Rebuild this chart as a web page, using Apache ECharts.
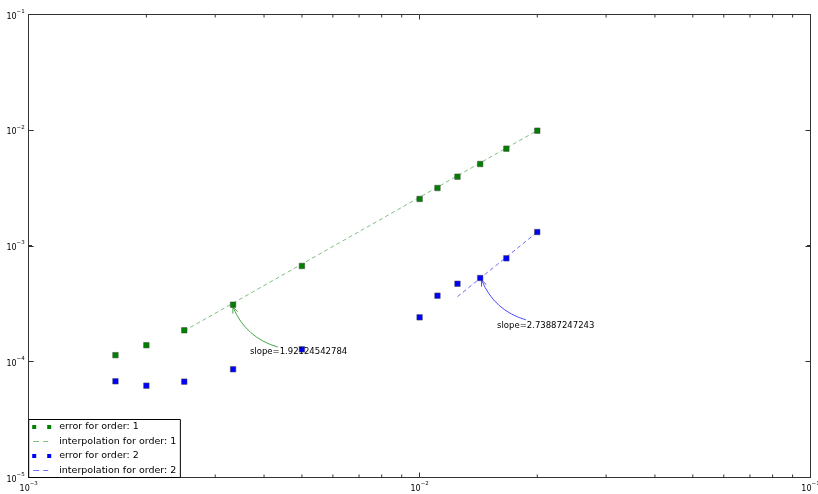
<!DOCTYPE html>
<html>
<head>
<meta charset="utf-8">
<script src="https://cdn.jsdelivr.net/npm/echarts@6/dist/echarts.min.js"></script>
<style>html,body{margin:0;padding:0;background:#fff}#c{width:818px;height:494px}</style>
</head>
<body>
<div id="c"></div>
<script>
// step sizes h (x) shared by both series
const hValues = [0.001667, 0.002, 0.0025, 0.003333, 0.005, 0.01, 0.01111, 0.0125, 0.01429, 0.01667, 0.02];
const errOrder1 = [1.14e-4, 1.39e-4, 1.87e-4, 3.11e-4, 6.72e-4, 2.55e-3, 3.17e-3, 3.97e-3, 5.11e-3, 6.93e-3, 9.91e-3];
const errOrder2 = [6.78e-5, 6.21e-5, 6.73e-5, 8.61e-5, 1.28e-4, 2.42e-4, 3.72e-4, 4.72e-4, 5.29e-4, 7.83e-4, 1.32e-3];
// interpolation line end points [x, y]
const interp1 = [[0.0025, 1.85e-4], [0.02, 9.95e-3]];
const interp2 = [[0.0125, 3.65e-4], [0.02, 1.32e-3]];
// annotations: text anchor, arrow [startX, startY, endX, endY]
const slope1Text = 'slope=1.92124542784';
const slope1Anchor = [0.00368, 1.21e-4];
const slope1Arrow = [0.00434, 1.34e-4, 0.00333, 2.97e-4];
const slope2Text = 'slope=2.73887247243';
const slope2Anchor = [0.01578, 2.04e-4];
const slope2Arrow = [0.01871, 2.30e-4, 0.01441, 5.08e-4];
// axis ranges and ticks
const xRange = [0.001, 0.1];
const yRange = [1e-5, 0.1];
const xMinorTicks = [0.002, 0.003, 0.004, 0.005, 0.006, 0.007, 0.008, 0.009, 0.02, 0.03, 0.04, 0.05, 0.06, 0.07, 0.08, 0.09];
const yMinorTicks = [2e-5, 3e-5, 4e-5, 5e-5, 6e-5, 7e-5, 8e-5, 9e-5, 2e-4, 3e-4, 4e-4, 5e-4, 6e-4, 7e-4, 8e-4, 9e-4,
  2e-3, 3e-3, 4e-3, 5e-3, 6e-3, 7e-3, 8e-3, 9e-3, 2e-2, 3e-2, 4e-2, 5e-2, 6e-2, 7e-2, 8e-2, 9e-2];
const legendNames = ['error for order: 1', 'interpolation for order: 1', 'error for order: 2', 'interpolation for order: 2'];

const FONT = 'DejaVu Sans';
const FRAME = '#333';
const GREEN = '#008000', BLUE = '#0000ff';
const GREEN_LINE = '#7fbf7f', BLUE_LINE = '#6b6bff';

function expLabel(v) {
  const e = Math.round(Math.log10(v));
  return '{b|10}{s|' + (e < 0 ? '\u2212' + (-e) : e) + '}';
}
const richLbl = {
  b: { fontSize: 8, fontFamily: FONT, color: '#000', lineHeight: 12, verticalAlign: 'bottom' },
  s: { fontSize: 5.5, fontFamily: FONT, color: '#000', lineHeight: 12, verticalAlign: 'top' }
};
function axisBase(extra) {
  return Object.assign({
    type: 'log', logBase: 10,
    axisLine: { show: true, onZero: false, lineStyle: { color: FRAME, width: 1 } },
    axisTick: { show: true, inside: true, length: 5, lineStyle: { color: FRAME, width: 1 } },
    splitLine: { show: false },
    minorTick: { show: false }
  }, extra);
}

const chart = echarts.init(document.getElementById('c'), null, { renderer: 'canvas' });
const sq2 = 'path://M0,0h4v4h-4z M15,0h4v4h-4z';
const dash2 = 'path://M0,0 M19,4 M1,1.5h6v1h-6z M11,1.5h5v1h-5z';

function minorTickRender(isX) {
  return function (params, api) {
    const v = api.value(0);
    let a, b;
    if (isX) {
      a = api.coord([v, yRange[0]]); b = api.coord([v, yRange[1]]);
      return { type: 'group', children: [
        { type: 'line', shape: { x1: a[0], y1: a[1], x2: a[0], y2: a[1] - 3 }, style: { stroke: FRAME, lineWidth: 1 } },
        { type: 'line', shape: { x1: b[0], y1: b[1], x2: b[0], y2: b[1] + 3 }, style: { stroke: FRAME, lineWidth: 1 } }
      ] };
    }
    a = api.coord([xRange[0], v]); b = api.coord([xRange[1], v]);
    return { type: 'group', children: [
      { type: 'line', shape: { x1: a[0], y1: a[1], x2: a[0] + 3, y2: a[1] }, style: { stroke: FRAME, lineWidth: 1 } },
      { type: 'line', shape: { x1: b[0], y1: b[1], x2: b[0] - 3, y2: b[1] }, style: { stroke: FRAME, lineWidth: 1 } }
    ] };
  };
}

function arrowRender(color, rad) {
  return function (params, api) {
    const s = api.coord([api.value(0), api.value(1)]);
    const e = api.coord([api.value(2), api.value(3)]);
    const dx = e[0] - s[0], dy = e[1] - s[1];
    const cx = (s[0] + e[0]) / 2 + rad * dy;
    const cy = (s[1] + e[1]) / 2 - rad * dx;
    const tx = e[0] - cx, ty = e[1] - cy;
    const tl = Math.sqrt(tx * tx + ty * ty);
    const ux = tx / tl, uy = ty / tl;
    const L = 6, W = 2.6;
    const h1 = [e[0] - ux * L - uy * W, e[1] - uy * L + ux * W];
    const h2 = [e[0] - ux * L + uy * W, e[1] - uy * L - ux * W];
    return { type: 'group', children: [
      { type: 'bezierCurve', shape: { x1: s[0], y1: s[1], cpx1: cx, cpy1: cy, x2: e[0], y2: e[1] },
        style: { stroke: color, lineWidth: 1, fill: null } },
      { type: 'polyline', shape: { points: [h1, e, h2] }, style: { stroke: color, lineWidth: 1, fill: null } }
    ] };
  };
}

const textLabel = { show: true, position: 'right', distance: 0, formatter: '{b}', fontFamily: FONT, fontSize: 8.5, color: '#000' };

const option = {
  animation: false,
  backgroundColor: '#fff',
  grid: { left: 28.7, right: 7.5, top: 14.5, bottom: 16.5, containLabel: false, outerBoundsMode: 'none' },
  xAxis: [
    axisBase({ position: 'bottom', min: xRange[0], max: xRange[1],
      axisLabel: { show: true, margin: 3, showMinLabel: true, showMaxLabel: true, formatter: expLabel, rich: richLbl } }),
    axisBase({ position: 'top', min: xRange[0], max: xRange[1], axisLabel: { show: false } })
  ],
  yAxis: [
    axisBase({ position: 'left', min: yRange[0], max: yRange[1],
      axisLabel: { show: true, margin: 4, showMinLabel: true, showMaxLabel: true, formatter: expLabel, rich: richLbl } }),
    axisBase({ position: 'right', min: yRange[0], max: yRange[1], axisLabel: { show: false } })
  ],
  legend: {
    data: [
      { name: legendNames[0], icon: sq2, itemStyle: { color: GREEN, borderWidth: 0 } },
      { name: legendNames[1], icon: dash2, itemStyle: { color: GREEN_LINE, borderWidth: 0 } },
      { name: legendNames[2], icon: sq2, itemStyle: { color: BLUE, borderWidth: 0 } },
      { name: legendNames[3], icon: dash2, itemStyle: { color: BLUE_LINE, borderWidth: 0 } }
    ],
    orient: 'vertical', left: 28.7, bottom: 16.5,
    itemWidth: 19, itemHeight: 4, itemGap: 2.5,
    padding: [1.5, 4, 1, 3.5],
    backgroundColor: '#fff', borderColor: '#000', borderWidth: 1, borderRadius: 0,
    textStyle: { fontFamily: FONT, fontSize: 9.5, color: '#000', lineHeight: 12, padding: [0, 0, 0, 3] },
    selectedMode: false
  },
  series: [
    {
      name: legendNames[1], type: 'line', data: interp1, symbol: 'none', z: 2,
      lineStyle: { color: GREEN_LINE, width: 1, type: [4, 3] }, itemStyle: { color: GREEN_LINE },
      markPoint: { silent: true, symbol: 'circle', symbolSize: 0, label: textLabel,
        data: [{ name: slope1Text, coord: slope1Anchor }] }
    },
    {
      name: legendNames[3], type: 'line', data: interp2, symbol: 'none', z: 2,
      lineStyle: { color: BLUE_LINE, width: 1, type: [4, 3] }, itemStyle: { color: BLUE_LINE },
      markPoint: { silent: true, symbol: 'circle', symbolSize: 0, label: textLabel,
        data: [{ name: slope2Text, coord: slope2Anchor }] }
    },
    {
      name: legendNames[0], type: 'scatter', symbol: 'rect', symbolSize: 5.5, z: 3,
      data: hValues.map((h, i) => [h, errOrder1[i]]),
      itemStyle: { color: GREEN, borderColor: '#444', borderWidth: 0.5, opacity: 1 }
    },
    {
      name: legendNames[2], type: 'scatter', symbol: 'rect', symbolSize: 5.5, z: 3,
      data: hValues.map((h, i) => [h, errOrder2[i]]),
      itemStyle: { color: BLUE, borderColor: '#444', borderWidth: 0.5, opacity: 1 }
    },
    {
      name: 'arrow1', type: 'custom', clip: false, silent: true, z: 2,
      encode: { x: [0, 2], y: [1, 3] },
      data: [slope1Arrow], renderItem: arrowRender('#4ca64c', 0.24)
    },
    {
      name: 'arrow2', type: 'custom', clip: false, silent: true, z: 2,
      encode: { x: [0, 2], y: [1, 3] },
      data: [slope2Arrow], renderItem: arrowRender('#4c4cff', 0.24)
    },
    {
      name: 'xminor', type: 'custom', clip: false, silent: true, z: 1,
      data: xMinorTicks.map(v => [v, yRange[0]]),
      renderItem: minorTickRender(true)
    },
    {
      name: 'yminor', type: 'custom', clip: false, silent: true, z: 1,
      data: yMinorTicks.map(v => [xRange[0], v]),
      renderItem: minorTickRender(false)
    }
  ]
};
chart.setOption(option);
</script>
</body>
</html>
